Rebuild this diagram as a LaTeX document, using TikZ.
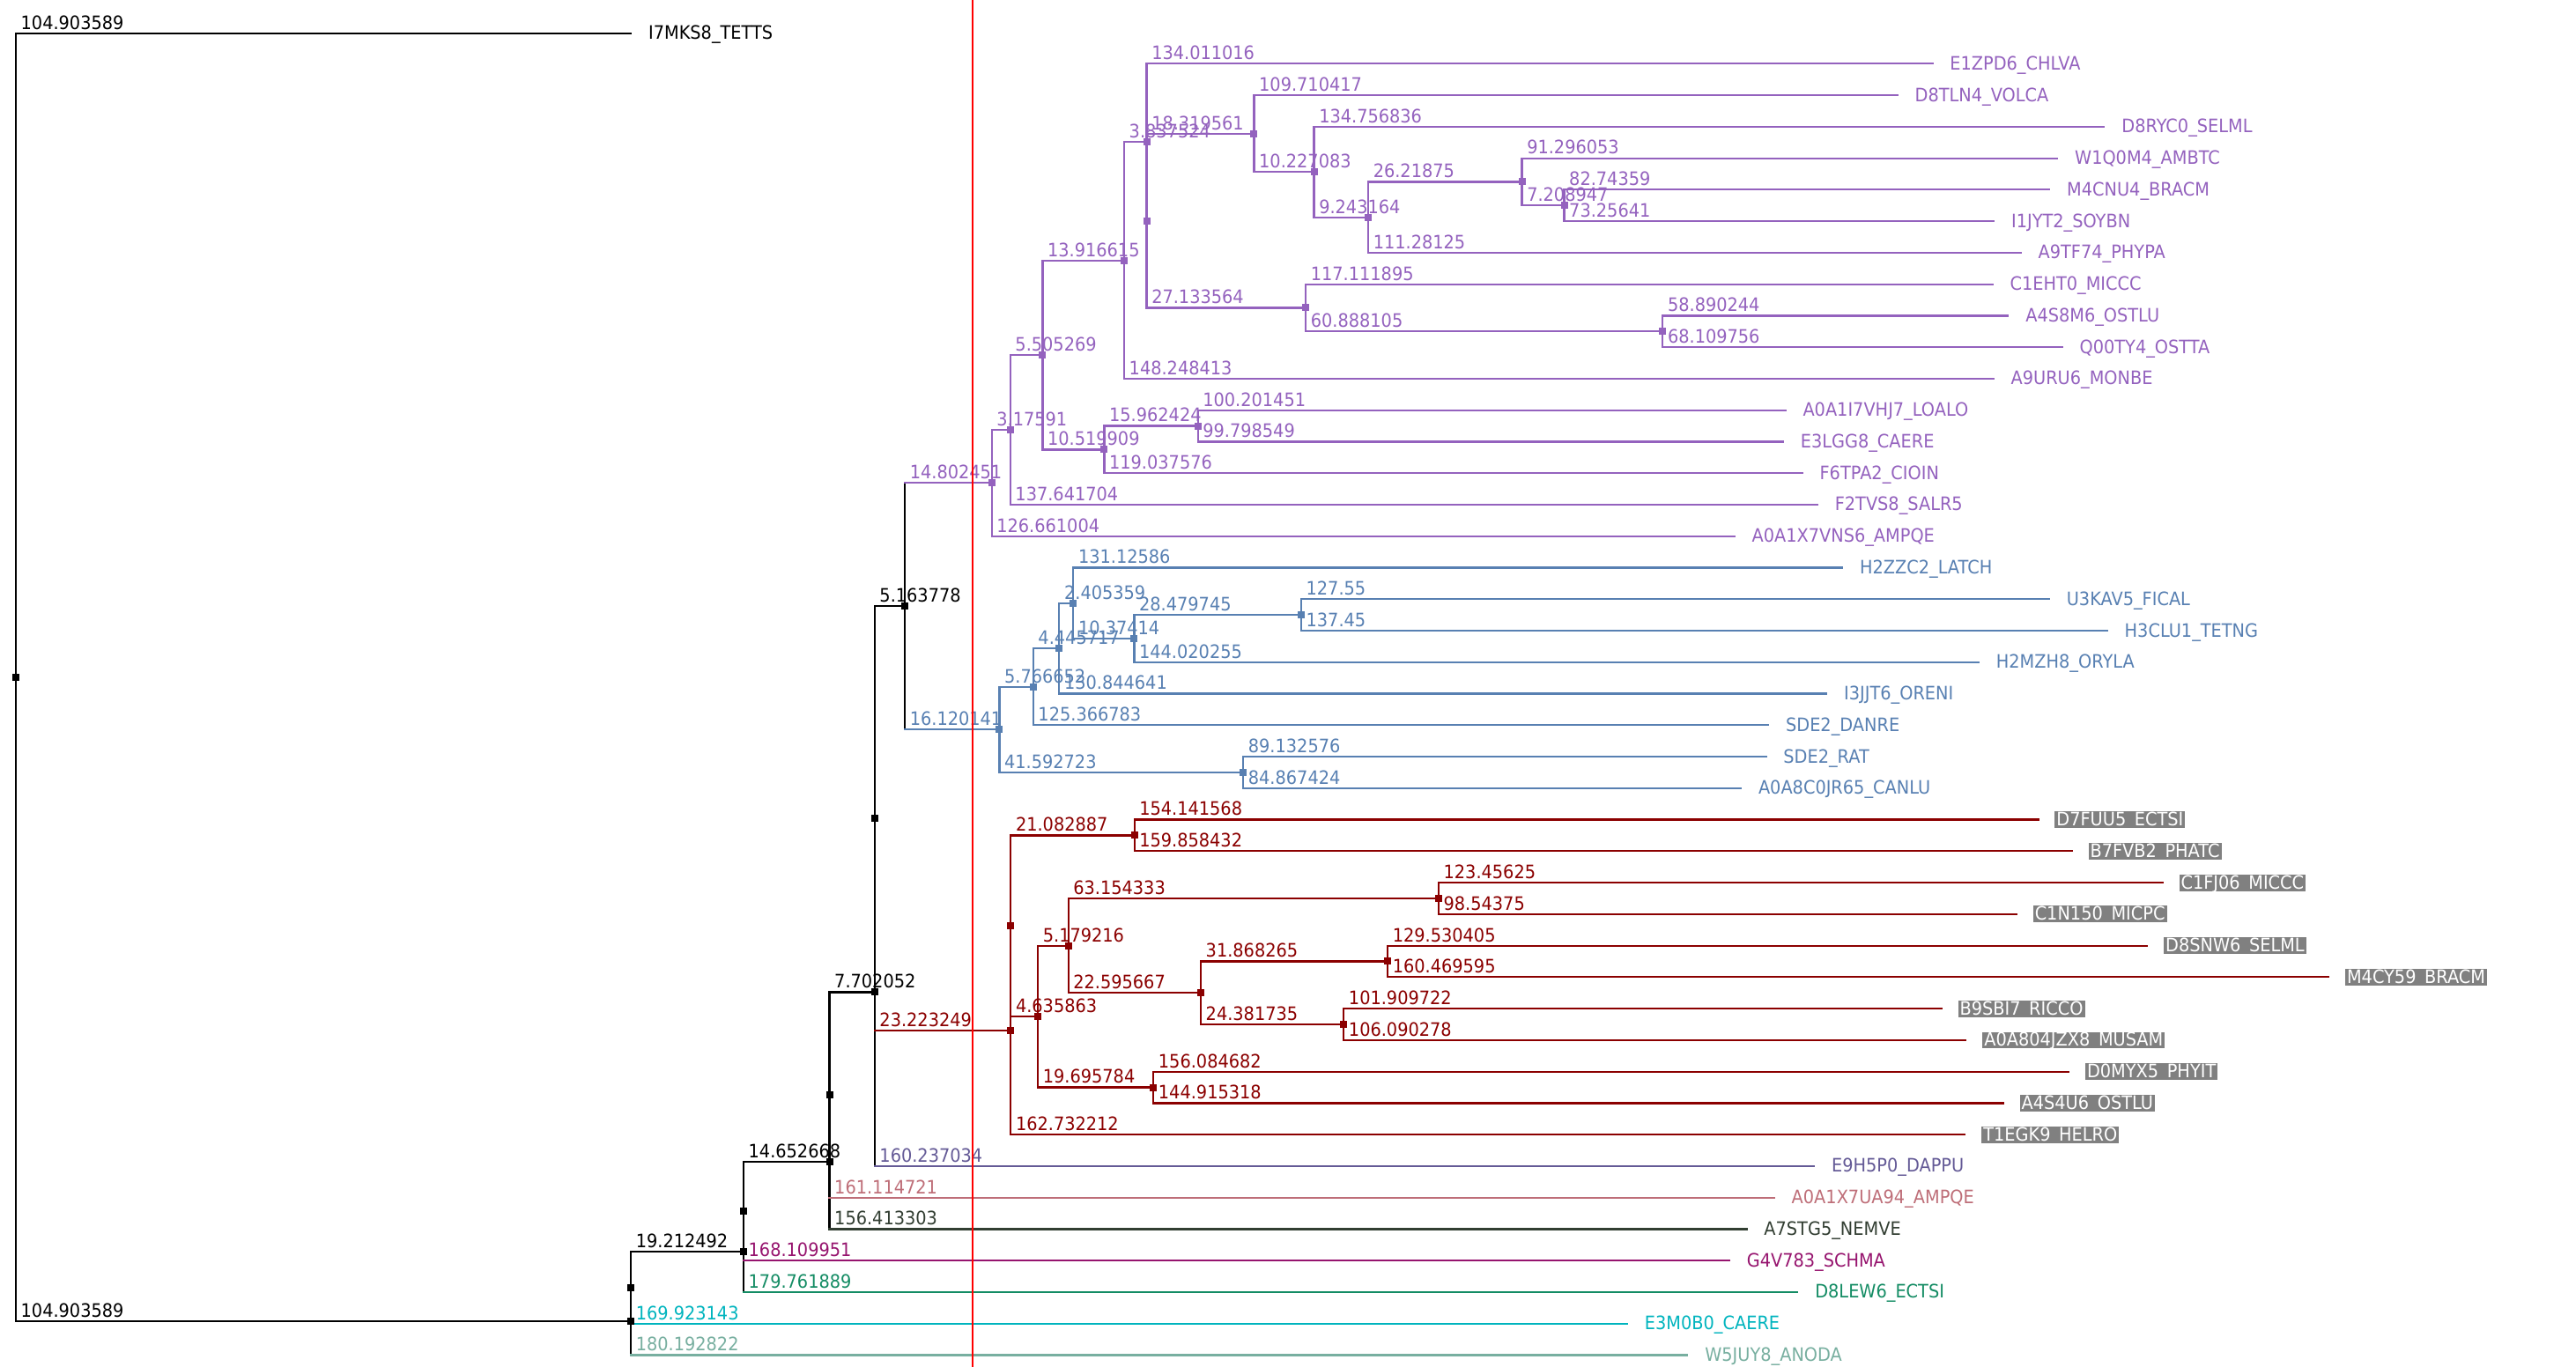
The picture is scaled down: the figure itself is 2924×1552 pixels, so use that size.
\documentclass[tikz,border=0pt]{standalone}
\usepackage{fontspec}
\setmainfont{DejaVu Sans}[FakeStretch=0.92]
\usetikzlibrary{calc}
\pgfdeclarelayer{bg}
\pgfsetlayers{bg,main}
\definecolor{bk}{RGB}{0,0,0}
\definecolor{pur}{RGB}{148,98,190}
\definecolor{blu}{RGB}{88,128,178}
\definecolor{dred}{RGB}{139,0,0}
\definecolor{slt}{RGB}{100,90,150}
\definecolor{pnk}{RGB}{190,110,120}
\definecolor{dkg}{RGB}{50,62,50}
\definecolor{mag}{RGB}{150,20,110}
\definecolor{grn}{RGB}{20,140,100}
\definecolor{cyn}{RGB}{0,180,190}
\definecolor{tgr}{RGB}{120,175,160}
\definecolor{boxgray}{RGB}{128,128,128}
\tikzset{
  br/.style={line width=1.1pt, line cap=rect},
  el/.style={anchor=base west, inner sep=0pt, xshift=2.3pt, yshift=2.3pt},
  mk/.style={rectangle, fill=#1, inner sep=0pt, minimum size=4pt},
  leaf/.style={anchor=west, text=#1, inner xsep=0pt, outer xsep=10pt, inner ysep=0.4pt, text height=7.8pt, text depth=0.8pt},
  gleaf/.style={anchor=west, text=white, fill=boxgray, inner xsep=1pt, outer xsep=9.5pt, inner ysep=0.4pt, text height=7.8pt, text depth=0.8pt},
}
% parent, child, parent colour, child colour, label
\newcommand\brn[5]{%
  \draw[br,#3] (#1.center) -- (#1.center |- #2.center);
  \draw[br,#4] (#1.center |- #2.center) -- node[el,pos=0]{#5} (#2);}
\newcommand\zbr[3]{\draw[br,#3] (#1.center) -- (#2.center);}
\begin{document}
\begin{tikzpicture}[x=0.5pt,y=-0.5pt,font=\fontsize{10.5}{12}\selectfont]
\useasboundingbox (0,0) rectangle (2924,1552);
\begin{scope}[x=3.3275pt, xshift=9pt]
% ---------- internal nodes ----------
\node[mk=bk] (root) at (0,769.1) {};
\node[mk=bk] (X) at (104.903589,1500.2) {};
\node[mk=bk] (P) at (104.903589,1461.9) {};
\node[mk=bk] (N2) at (124.116081,1421.05) {};
\node[mk=bk] (Q) at (124.116081,1375.2) {};
\node[mk=bk] (N3) at (138.768749,1319.25) {};
\node[mk=bk] (R) at (138.768749,1243.1) {};
\node[mk=bk] (N4) at (146.470801,1126.45) {};
\node[mk=bk] (T) at (146.470801,929.0) {};
\node[mk=bk] (N5) at (151.634579,688.3) {};
\node[mk=pur] (Pu) at (166.43703,548.3) {};
\node[mk=pur] (Pu1) at (169.61294,487.95) {};
\node[mk=pur] (Pu2) at (175.118209,403.0) {};
\node[mk=pur] (Pu3) at (189.034824,295.65) {};
\node[mk=pur] (Pu4) at (192.872348,161.4) {};
\node[mk=pur] (Pu5) at (192.872348,250.5) {};
\node[mk=pur] (Pu6) at (211.191909,151.65) {};
\node[mk=pur] (Pu7) at (220.005912,349.4) {};
\node[mk=pur] (Pu8) at (221.418992,195.2) {};
\node[mk=pur] (Pu9) at (230.662156,246.65) {};
\node[mk=pur] (Pu10) at (256.880906,206.4) {};
\node[mk=pur] (Pu11) at (264.089853,233.2) {};
\node[mk=pur] (Pu12) at (280.894017,376.25) {};
\node[mk=pur] (Pu13) at (185.638118,510.4) {};
\node[mk=pur] (Pu14) at (201.600542,483.55) {};
\node[mk=blu] (Bl) at (167.75472,828.3) {};
\node[mk=blu] (Bl1) at (173.521372,779.7) {};
\node[mk=blu] (Bl2) at (209.347443,876.9) {};
\node[mk=blu] (Bl3) at (177.967089,736.1) {};
\node[mk=blu] (Bl4) at (180.372448,684.7) {};
\node[mk=blu] (Bl5) at (190.746588,724.9) {};
\node[mk=blu] (Bl6) at (219.226333,698.1) {};
\node[mk=dred] (Red) at (169.69405,1169.65) {};
\node[mk=dred] (Rd) at (169.69405,1051.2) {};
\node[mk=dred] (Rd2) at (190.776937,948.4) {};
\node[mk=dred] (Rd3) at (174.329913,1154.05) {};
\node[mk=dred] (Rd4) at (179.509129,1073.6) {};
\node[mk=dred] (Rd5) at (194.025697,1234.5) {};
\node[mk=dred] (Rd6) at (242.663462,1019.95) {};
\node[mk=dred] (Rd7) at (202.104796,1127.2) {};
\node[mk=dred] (Rd8) at (233.973061,1091.45) {};
\node[mk=dred] (Rd9) at (226.486531,1163.0) {};
% ---------- leaves ----------
\node[leaf=bk] (I7MKS8) at (104.903589,38) {I7MKS8\_TETTS};
\node[leaf=pur] (E1ZPD6) at (326.883364,72.3) {E1ZPD6\_CHLVA};
\node[leaf=pur] (D8TLN4) at (320.902326,108.1) {D8TLN4\_VOLCA};
\node[leaf=pur] (D8RYC0) at (356.175828,143.8) {D8RYC0\_SELML};
\node[leaf=pur] (W1Q0M4) at (348.176959,179.6) {W1Q0M4\_AMBTC};
\node[leaf=pur] (M4CNU4) at (346.833443,215.3) {M4CNU4\_BRACM};
\node[leaf=pur] (I1JYT2) at (337.346263,251.1) {I1JYT2\_SOYBN};
\node[leaf=pur] (A9TF74) at (341.943406,286.9) {A9TF74\_PHYPA};
\node[leaf=pur] (C1EHT0) at (337.117807,322.6) {C1EHT0\_MICCC};
\node[leaf=pur] (A4S8M6) at (339.784261,358.4) {A4S8M6\_OSTLU};
\node[leaf=pur] (Q00TY4) at (349.003773,394.1) {Q00TY4\_OSTTA};
\node[leaf=pur] (A9URU6) at (337.283237,429.9) {A9URU6\_MONBE};
\node[leaf=pur] (A0A1I7VHJ7) at (301.801993,465.7) {A0A1I7VHJ7\_LOALO};
\node[leaf=pur] (E3LGG8) at (301.399091,501.4) {E3LGG8\_CAERE};
\node[leaf=pur] (F6TPA2) at (304.675694,537.2) {F6TPA2\_CIOIN};
\node[leaf=pur] (F2TVS8) at (307.254644,572.9) {F2TVS8\_SALR5};
\node[leaf=pur] (A0A1X7VNS6) at (293.098034,608.7) {A0A1X7VNS6\_AMPQE};
\node[leaf=blu] (H2ZZC2) at (311.498308,644.5) {H2ZZC2\_LATCH};
\node[leaf=blu] (U3KAV5) at (346.776333,680.2) {U3KAV5\_FICAL};
\node[leaf=blu] (H3CLU1) at (356.676333,716.0) {H3CLU1\_TETNG};
\node[leaf=blu] (H2MZH8) at (334.766843,751.7) {H2MZH8\_ORYLA};
\node[leaf=blu] (I3JJT6) at (308.81173,787.5) {I3JJT6\_ORENI};
\node[leaf=blu] (SDE2DANRE) at (298.888155,823.3) {SDE2\_DANRE};
\node[leaf=blu] (SDE2RAT) at (298.480019,859.0) {SDE2\_RAT};
\node[leaf=blu] (A0A8C0JR65) at (294.214867,894.8) {A0A8C0JR65\_CANLU};
\node[gleaf] (D7FUU5) at (344.918505,930.5) {D7FUU5\_ECTSI};
\node[gleaf] (B7FVB2) at (350.635369,966.3) {B7FVB2\_PHATC};
\node[gleaf] (C1FJ06) at (366.119712,1002.1) {C1FJ06\_MICCC};
\node[gleaf] (C1N150) at (341.207212,1037.8) {C1N150\_MICPC};
\node[gleaf] (D8SNW6) at (363.503466,1073.6) {D8SNW6\_SELML};
\node[gleaf] (M4CY59) at (394.442656,1109.3) {M4CY59\_BRACM};
\node[gleaf] (B9SBI7) at (328.396253,1145.1) {B9SBI7\_RICCO};
\node[gleaf] (A0A804JZX8) at (332.576809,1180.9) {A0A804JZX8\_MUSAM};
\node[gleaf] (D0MYX5) at (350.110379,1216.6) {D0MYX5\_PHYIT};
\node[gleaf] (A4S4U6) at (338.941015,1252.4) {A4S4U6\_OSTLU};
\node[gleaf] (T1EGK9) at (332.426262,1288.1) {T1EGK9\_HELRO};
\node[leaf=slt] (E9H5P0) at (306.707835,1323.9) {E9H5P0\_DAPPU};
\node[leaf=pnk] (A0A1X7UA94) at (299.88347,1359.7) {A0A1X7UA94\_AMPQE};
\node[leaf=dkg] (A7STG5) at (295.182052,1395.4) {A7STG5\_NEMVE};
\node[leaf=mag] (G4V783) at (292.226032,1431.2) {G4V783\_SCHMA};
\node[leaf=grn] (D8LEW6) at (303.87797,1466.9) {D8LEW6\_ECTSI};
\node[leaf=cyn] (E3M0B0) at (274.826732,1502.7) {E3M0B0\_CAERE};
\node[leaf=tgr] (W5JUY8) at (285.096411,1538.5) {W5JUY8\_ANODA};
% ---------- branches ----------
\begin{pgfonlayer}{bg}
\brn{root}{I7MKS8}{bk}{bk}{104.903589}
\brn{root}{X}{bk}{bk}{104.903589}
\zbr{X}{P}{bk}
\brn{X}{W5JUY8}{bk}{tgr}{180.192822}
\brn{P}{N2}{bk}{bk}{19.212492}
\brn{P}{E3M0B0}{bk}{cyn}{169.923143}
\zbr{N2}{Q}{bk}
\brn{N2}{D8LEW6}{bk}{grn}{179.761889}
\brn{Q}{N3}{bk}{bk}{14.652668}
\brn{Q}{G4V783}{bk}{mag}{168.109951}
\zbr{N3}{R}{bk}
\brn{N3}{A7STG5}{bk}{dkg}{156.413303}
\brn{R}{N4}{bk}{bk}{7.702052}
\brn{R}{A0A1X7UA94}{bk}{pnk}{161.114721}
\zbr{N4}{T}{bk}
\brn{N4}{E9H5P0}{bk}{slt}{160.237034}
\brn{T}{N5}{bk}{bk}{5.163778}
\brn{T}{Red}{bk}{dred}{23.223249}
\brn{N5}{Pu}{bk}{pur}{14.802451}
\brn{N5}{Bl}{bk}{blu}{16.120141}
% purple
\brn{Pu}{Pu1}{pur}{pur}{3.17591}
\brn{Pu}{A0A1X7VNS6}{pur}{pur}{126.661004}
\brn{Pu1}{Pu2}{pur}{pur}{5.505269}
\brn{Pu1}{F2TVS8}{pur}{pur}{137.641704}
\brn{Pu2}{Pu3}{pur}{pur}{13.916615}
\brn{Pu2}{Pu13}{pur}{pur}{10.519909}
\brn{Pu3}{Pu4}{pur}{pur}{3.837524}
\brn{Pu3}{A9URU6}{pur}{pur}{148.248413}
\brn{Pu4}{E1ZPD6}{pur}{pur}{134.011016}
\zbr{Pu4}{Pu5}{pur}
\brn{Pu5}{Pu6}{pur}{pur}{18.319561}
\brn{Pu5}{Pu7}{pur}{pur}{27.133564}
\brn{Pu6}{D8TLN4}{pur}{pur}{109.710417}
\brn{Pu6}{Pu8}{pur}{pur}{10.227083}
\brn{Pu8}{D8RYC0}{pur}{pur}{134.756836}
\brn{Pu8}{Pu9}{pur}{pur}{9.243164}
\brn{Pu9}{Pu10}{pur}{pur}{26.21875}
\brn{Pu9}{A9TF74}{pur}{pur}{111.28125}
\brn{Pu10}{W1Q0M4}{pur}{pur}{91.296053}
\brn{Pu10}{Pu11}{pur}{pur}{7.208947}
\brn{Pu11}{M4CNU4}{pur}{pur}{82.74359}
\brn{Pu11}{I1JYT2}{pur}{pur}{73.25641}
\brn{Pu7}{C1EHT0}{pur}{pur}{117.111895}
\brn{Pu7}{Pu12}{pur}{pur}{60.888105}
\brn{Pu12}{A4S8M6}{pur}{pur}{58.890244}
\brn{Pu12}{Q00TY4}{pur}{pur}{68.109756}
\brn{Pu13}{Pu14}{pur}{pur}{15.962424}
\brn{Pu13}{F6TPA2}{pur}{pur}{119.037576}
\brn{Pu14}{A0A1I7VHJ7}{pur}{pur}{100.201451}
\brn{Pu14}{E3LGG8}{pur}{pur}{99.798549}
% blue
\brn{Bl}{Bl1}{blu}{blu}{5.766652}
\brn{Bl}{Bl2}{blu}{blu}{41.592723}
\brn{Bl1}{Bl3}{blu}{blu}{4.445717}
\brn{Bl1}{SDE2DANRE}{blu}{blu}{125.366783}
\brn{Bl3}{Bl4}{blu}{blu}{2.405359}
\brn{Bl3}{I3JJT6}{blu}{blu}{130.844641}
\brn{Bl4}{H2ZZC2}{blu}{blu}{131.12586}
\brn{Bl4}{Bl5}{blu}{blu}{10.37414}
\brn{Bl5}{Bl6}{blu}{blu}{28.479745}
\brn{Bl5}{H2MZH8}{blu}{blu}{144.020255}
\brn{Bl6}{U3KAV5}{blu}{blu}{127.55}
\brn{Bl6}{H3CLU1}{blu}{blu}{137.45}
\brn{Bl2}{SDE2RAT}{blu}{blu}{89.132576}
\brn{Bl2}{A0A8C0JR65}{blu}{blu}{84.867424}
% red
\zbr{Red}{Rd}{dred}
\brn{Red}{T1EGK9}{dred}{dred}{162.732212}
\brn{Rd}{Rd2}{dred}{dred}{21.082887}
\brn{Rd}{Rd3}{dred}{dred}{4.635863}
\brn{Rd2}{D7FUU5}{dred}{dred}{154.141568}
\brn{Rd2}{B7FVB2}{dred}{dred}{159.858432}
\brn{Rd3}{Rd4}{dred}{dred}{5.179216}
\brn{Rd3}{Rd5}{dred}{dred}{19.695784}
\brn{Rd4}{Rd6}{dred}{dred}{63.154333}
\brn{Rd4}{Rd7}{dred}{dred}{22.595667}
\brn{Rd6}{C1FJ06}{dred}{dred}{123.45625}
\brn{Rd6}{C1N150}{dred}{dred}{98.54375}
\brn{Rd7}{Rd8}{dred}{dred}{31.868265}
\brn{Rd7}{Rd9}{dred}{dred}{24.381735}
\brn{Rd8}{D8SNW6}{dred}{dred}{129.530405}
\brn{Rd8}{M4CY59}{dred}{dred}{160.469595}
\brn{Rd9}{B9SBI7}{dred}{dred}{101.909722}
\brn{Rd9}{A0A804JZX8}{dred}{dred}{106.090278}
\brn{Rd5}{D0MYX5}{dred}{dred}{156.084682}
\brn{Rd5}{A4S4U6}{dred}{dred}{144.915318}
\end{pgfonlayer}
\end{scope}
\draw[red, line width=1pt] (1104,0) -- (1104,1552);
\end{tikzpicture}
\end{document}
